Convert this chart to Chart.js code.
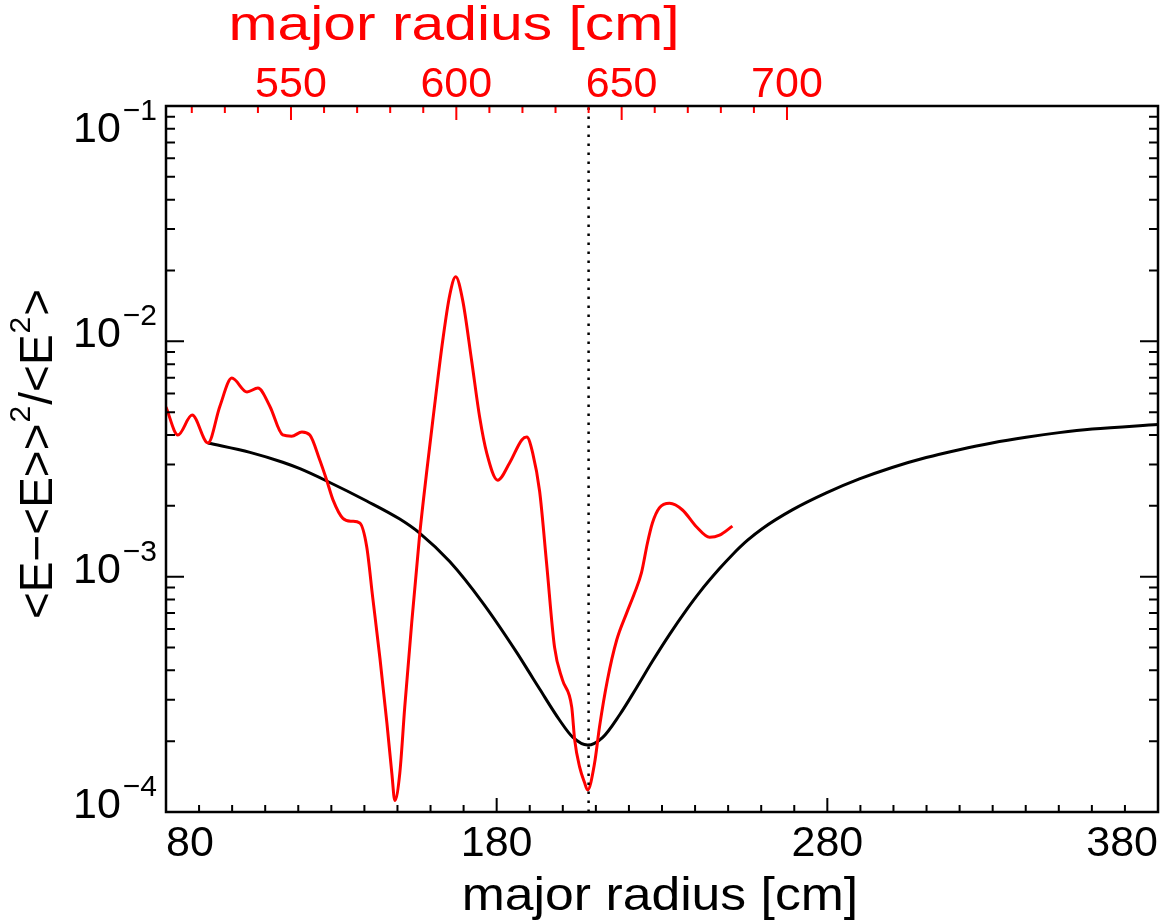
<!DOCTYPE html>
<html>
<head>
<meta charset="utf-8">
<script src="https://cdn.jsdelivr.net/npm/chart.js@4.4.1/dist/chart.umd.min.js"></script>
<style>
  html, body { margin: 0; padding: 0; background: #ffffff; }
  #wrap { width: 1170px; height: 922px; }
</style>
</head>
<body>
<div id="wrap"><canvas id="c" width="1170" height="922"></canvas></div>
<script>
// ---------------- data ----------------
// red curve, plotted against the top (red) major-radius axis [cm]
const redRadius = [512.2, 515.8, 520.1, 524.9, 528.5, 532.1, 536.7, 540.0, 543.6, 547.5,
  550.2, 553.3, 555.7, 558.7, 560.8, 562.7, 565.7, 568.4, 570.8, 572.9,
  574.7, 576.9, 579.0, 580.5, 581.4, 582.9, 584.4, 586.5, 588.9, 591.1,
  592.9, 595.9, 598.0, 599.8, 601.9, 604.6, 607.1, 609.2, 612.5, 616.1,
  619.8, 621.3, 623.1, 625.2, 627.3, 629.7, 632.1, 634.9, 635.8, 637.3,
  638.8, 639.7, 641.8, 643.3, 645.7, 648.5, 651.5, 653.9, 656.0, 657.8,
  659.3, 661.4, 664.5, 668.4, 672.6, 676.6, 679.6, 683.5];
const redValue = [5.26e-3, 4.0e-3, 4.86e-3, 3.70e-3, 5.3e-3, 6.98e-3, 6.09e-3, 6.33e-3, 5.3e-3, 4.0e-3,
  3.95e-3, 4.12e-3, 4.0e-3, 3.13e-3, 2.57e-3, 2.12e-3, 1.77e-3, 1.72e-3, 1.69e-3, 1.34e-3,
  8.19e-4, 4.5e-4, 2.39e-4, 1.46e-4, 1.12e-4, 1.46e-4, 2.79e-4, 6.35e-4, 1.5e-3, 2.84e-3,
  4.63e-3, 1.01e-2, 1.57e-2, 1.88e-2, 1.50e-2, 8.33e-3, 4.72e-3, 3.35e-3, 2.57e-3, 3.04e-3,
  3.81e-3, 3.92e-3, 3.35e-3, 2.3e-3, 1.14e-3, 5.02e-4, 3.64e-4, 2.79e-4, 2.02e-4, 1.55e-4,
  1.33e-4, 1.24e-4, 1.61e-4, 2.30e-4, 3.64e-4, 5.38e-4, 7.00e-4, 8.52e-4, 1.04e-3, 1.39e-3,
  1.69e-3, 1.96e-3, 2.05e-3, 1.92e-3, 1.63e-3, 1.47e-3, 1.50e-3, 1.64e-3];

// black curve, plotted against the bottom major-radius axis [cm]
const blackRadius = [92.7, 105.4, 115.3, 120.5, 128.6, 140.7, 150.7, 156.7, 165.8, 175.8,
  186.0, 190.0, 193.0, 199.0, 203.0, 207.5, 212.0, 217.2, 222.3, 227.1,
  232.3, 237.4, 241.3, 247.4, 251.3, 255.8, 260.4, 269.4, 279.7, 289.7,
  299.6, 309.9, 319.9, 329.8, 340.1, 350.1, 360.1, 380.0];
const blackValue = [3.70e-3, 3.375e-3, 3.063e-3, 2.875e-3, 2.55e-3, 2.097e-3, 1.757e-3, 1.532e-3, 1.159e-3, 7.74e-4,
  4.78e-4, 3.89e-4, 3.33e-4, 2.46e-4, 2.08e-4, 1.924e-4, 2.07e-4, 2.59e-4, 3.375e-4, 4.37e-4,
  5.69e-4, 7.23e-4, 8.56e-4, 1.082e-3, 1.24e-3, 1.425e-3, 1.603e-3, 1.922e-3, 2.27e-3, 2.601e-3,
  2.911e-3, 3.208e-3, 3.464e-3, 3.70e-3, 3.912e-3, 4.093e-3, 4.24e-3, 4.434e-3];

// dotted vertical marker (top axis units)
const markerRadius = 640;

// axes
const bottomRange = [80, 380];
const topRange = [512.2, 812.2];
const yRange = [1e-4, 1e-1];
const bottomTickLabels = [80, 180, 280, 380];
const topTickLabels = [550, 600, 650, 700];
const topMinorRange = [520, 700];
const yTickValues = [1e-4, 1e-3, 1e-2, 1e-1];
const yTickExponents = ['\u22124', '\u22123', '\u22122', '\u22121'];

const xTitle = 'major radius [cm]';
const topTitle = 'major radius [cm]';
const yTitleParts = [['<E\u2212<E>>', false], ['2', true], ['/<E', false], ['2', true], ['>', false]];

// ---------------- styling ----------------
const FONT = '"Liberation Sans", Arial, Helvetica, sans-serif';
const RED = '#ff0000';

function stretchedText(ctx, text, cx, baseline, size, stretch) {
  ctx.save();
  ctx.font = size + 'px ' + FONT;
  ctx.textAlign = 'center';
  ctx.translate(cx, baseline);
  ctx.scale(stretch, 1);
  ctx.fillText(text, 0, 0);
  ctx.restore();
}

const idlAxes = {
  id: 'idlAxes',
  afterDraw(chart) {
    const { ctx, chartArea: a, scales } = chart;
    const xs = scales.x, xt = scales.x2, ys = scales.y;
    ctx.save();
    ctx.lineCap = 'butt';

    // black ticks: bottom + left + right
    ctx.strokeStyle = '#000';
    ctx.lineWidth = 2;
    ctx.beginPath();
    for (let v = bottomRange[0]; v <= bottomRange[1]; v += 10) {
      const px = xs.getPixelForValue(v);
      const len = bottomTickLabels.includes(v) ? 14 : 7;
      ctx.moveTo(px, a.bottom); ctx.lineTo(px, a.bottom - len);
    }
    for (let d = -4; d <= -1; d++) {
      for (let k = 1; k <= 9; k++) {
        if (d === -1 && k > 1) break;
        const v = k * Math.pow(10, d);
        const py = ys.getPixelForValue(v);
        const len = k === 1 ? 18 : 9;
        ctx.moveTo(a.left, py); ctx.lineTo(a.left + len, py);
        ctx.moveTo(a.right, py); ctx.lineTo(a.right - len, py);
      }
    }
    ctx.stroke();

    // red ticks on top
    ctx.strokeStyle = RED;
    ctx.beginPath();
    for (let v = topMinorRange[0]; v <= topMinorRange[1]; v += 10) {
      const px = xt.getPixelForValue(v);
      const len = v % 50 === 0 ? 14 : 7;
      ctx.moveTo(px, a.top); ctx.lineTo(px, a.top + len);
    }
    ctx.stroke();

    // frame
    ctx.strokeStyle = '#000';
    ctx.lineWidth = 2.5;
    ctx.strokeRect(a.left, a.top, a.right - a.left, a.bottom - a.top);

    // y tick labels 10^n
    ctx.fillStyle = '#000';
    ctx.textBaseline = 'alphabetic';
    ctx.textAlign = 'left';
    yTickValues.forEach((v, i) => {
      const py = ys.getPixelForValue(v);
      const base = Math.max(py + 6, a.top + 36);
      ctx.font = '43px ' + FONT;
      const w1 = ctx.measureText('10').width;
      ctx.font = '30px ' + FONT;
      const w2 = ctx.measureText(yTickExponents[i]).width;
      const x0 = a.left - 9 - (w1 + 2 + w2);
      ctx.font = '43px ' + FONT;
      ctx.fillText('10', x0, base);
      ctx.font = '30px ' + FONT;
      ctx.fillText(yTickExponents[i], x0 + w1 + 2, base - 22);
    });

    // bottom title
    ctx.fillStyle = '#000';
    stretchedText(ctx, xTitle, 660, 910, 47, 1.1);

    // top title (red)
    ctx.fillStyle = RED;
    stretchedText(ctx, topTitle, xt.getPixelForValue(599.3), 40, 49, 1.2);

    // y title (rotated, with superscripts)
    ctx.fillStyle = '#000';
    ctx.textAlign = 'left';
    let total = 0;
    yTitleParts.forEach(([t, sup]) => {
      ctx.font = (sup ? '30px ' : '46px ') + FONT;
      total += ctx.measureText(t).width + (sup ? 2 : 0);
    });
    ctx.translate(52, (a.top + a.bottom) / 2 - 5);
    ctx.rotate(-Math.PI / 2);
    let cx = -total / 2;
    yTitleParts.forEach(([t, sup]) => {
      ctx.font = (sup ? '30px ' : '46px ') + FONT;
      if (sup) cx += 1;
      ctx.fillText(t, cx, sup ? -22 : 0);
      cx += ctx.measureText(t).width + (sup ? 1 : 0);
    });

    ctx.restore();
  }
};

new Chart(document.getElementById('c'), {
  type: 'line',
  data: {
    datasets: [
      {
        label: 'marker',
        data: [{ x: markerRadius, y: yRange[0] }, { x: markerRadius, y: yRange[1] }],
        xAxisID: 'x2', yAxisID: 'y',
        borderColor: '#000', borderWidth: 2.5, borderDash: [2.5, 6.5],
        pointRadius: 0
      },
      {
        label: 'red',
        data: redRadius.map((r, i) => ({ x: r, y: redValue[i] })),
        xAxisID: 'x2', yAxisID: 'y',
        borderColor: RED, borderWidth: 3, pointRadius: 0,
        cubicInterpolationMode: 'monotone'
      },
      {
        label: 'black',
        data: blackRadius.map((r, i) => ({ x: r, y: blackValue[i] })),
        xAxisID: 'x', yAxisID: 'y',
        borderColor: '#000', borderWidth: 3, pointRadius: 0,
        cubicInterpolationMode: 'monotone'
      }
    ]
  },
  options: {
    responsive: false,
    devicePixelRatio: 1,
    animation: false,
    layout: { padding: { left: 0, right: 12, top: 0, bottom: 0 } },
    plugins: { legend: { display: false }, tooltip: { enabled: false } },
    scales: {
      x: {
        type: 'linear', position: 'bottom',
        min: bottomRange[0], max: bottomRange[1],
        grid: { display: false, drawTicks: false },
        border: { display: false },
        ticks: {
          color: '#000', align: 'inner', padding: 11, maxRotation: 0,
          font: { family: FONT, size: 43, lineHeight: 1 }
        },
        afterBuildTicks: s => { s.ticks = bottomTickLabels.map(v => ({ value: v })); },
        afterFit: s => { s.height = 110; s.paddingLeft = 0; s.paddingRight = 0; }
      },
      x2: {
        type: 'linear', position: 'top',
        min: topRange[0], max: topRange[1],
        grid: { display: false, drawTicks: false },
        border: { display: false },
        ticks: {
          color: RED, padding: -1, maxRotation: 0,
          font: { family: FONT, size: 43, lineHeight: 1 }
        },
        afterBuildTicks: s => { s.ticks = topTickLabels.map(v => ({ value: v })); },
        afterFit: s => { s.height = 106; s.paddingLeft = 0; s.paddingRight = 0; }
      },
      y: {
        type: 'logarithmic', position: 'left',
        min: yRange[0], max: yRange[1],
        grid: { display: false, drawTicks: false },
        border: { display: false },
        ticks: { display: false },
        afterFit: s => { s.width = 166; s.paddingTop = 0; s.paddingBottom = 0; }
      }
    }
  },
  plugins: [idlAxes]
});
</script>
</body>
</html>
